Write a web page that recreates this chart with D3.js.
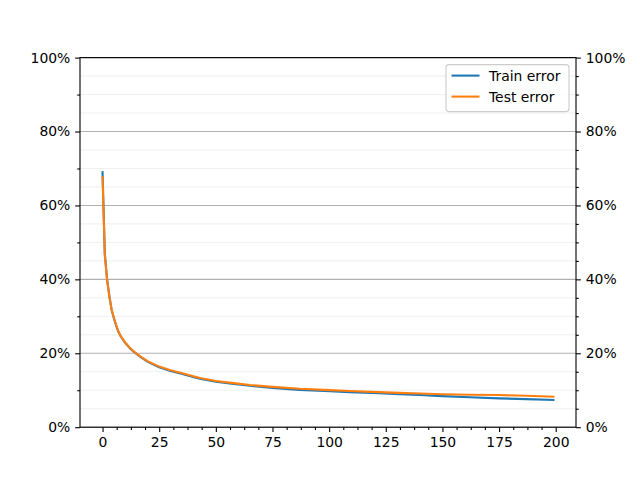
<!DOCTYPE html>
<html>
<head>
<meta charset="utf-8">
<script src="https://cdn.jsdelivr.net/npm/d3@7"></script>
<style>
  body { margin: 0; background: #fff; }
  text { font-family: "DejaVu Sans", sans-serif; }
</style>
</head>
<body>
<div id="chart"></div>
<script>
// epochs (denser where the curve falls fast)
var epochs = [0, 1, 2, 3, 4, 5, 6, 7, 8, 10, 12, 14, 17, 20, 25, 30, 34, 40, 43, 50, 57, 65, 75, 87, 98, 109, 122, 131, 140, 150, 162, 175, 187, 199];
var trainError = [0.690, 0.470, 0.400, 0.355, 0.318, 0.295, 0.275, 0.258, 0.246, 0.228, 0.214, 0.203, 0.189, 0.177, 0.162, 0.152, 0.146, 0.136, 0.131, 0.123, 0.118, 0.112, 0.106, 0.101, 0.098, 0.095, 0.092, 0.089, 0.087, 0.084, 0.081, 0.078, 0.076, 0.0736];
var testError  = [0.677, 0.465, 0.398, 0.354, 0.318, 0.296, 0.276, 0.259, 0.247, 0.229, 0.215, 0.204, 0.190, 0.178, 0.164, 0.154, 0.148, 0.138, 0.133, 0.125, 0.120, 0.114, 0.109, 0.104, 0.101, 0.098, 0.095, 0.093, 0.091, 0.089, 0.088, 0.087, 0.085, 0.0826];
var seriesNames = ["Train error", "Test error"];
var seriesColors = ["#1f77b4", "#ff7f0e"];
var xTicks = [0, 25, 50, 75, 100, 125, 150, 175, 200];
var yTicks = [0, 0.2, 0.4, 0.6, 0.8, 1.0];

var svgWidth = 640;
var svgHeight = 480;
var margin = { top: 57.6, right: 64, bottom: 52.8, left: 80 };
var width = svgWidth - margin.left - margin.right;
var height = svgHeight - margin.top - margin.bottom;

var svg = d3.select("#chart")
  .append("svg")
  .attr("width", svgWidth)
  .attr("height", svgHeight);

var chartGroup = svg.append("g")
  .attr("transform", `translate(${margin.left}, ${margin.top})`);

var xScale = d3.scaleLinear().domain([-9.95, 208.95]).range([0, width]);
var yScale = d3.scaleLinear().domain([0, 1]).range([height, 0]);

// minor horizontal grid every 5%
var minorY = d3.range(0, 1.0001, 0.05).filter(v => Math.abs(Math.round(v * 5) - v * 5) > 1e-6);
chartGroup.append("g").selectAll("line")
  .data(minorY).enter().append("line")
  .attr("x1", 0).attr("x2", width)
  .attr("y1", d => yScale(d)).attr("y2", d => yScale(d))
  .attr("stroke", "#ebebeb").attr("stroke-width", 0.8);

// major grid
chartGroup.append("g").selectAll("line")
  .data(yTicks).enter().append("line")
  .attr("x1", 0).attr("x2", width)
  .attr("y1", d => yScale(d)).attr("y2", d => yScale(d))
  .attr("stroke", "#b0b0b0").attr("stroke-width", 1.1);

var fmt = d => Math.round(d * 100) + "%";
var majorLen = 4.86, minorLen = 2.78;

// x axis
var bottomAxis = d3.axisBottom(xScale).tickValues(xTicks).tickSize(majorLen).tickPadding(4.86);
var xAxis = chartGroup.append("g")
  .attr("transform", `translate(0, ${height})`)
  .call(bottomAxis);
var xMinor = d3.range(0, 206, 6.25).filter(v => v % 25 !== 0);
chartGroup.append("g")
  .attr("transform", `translate(0, ${height})`)
  .call(d3.axisBottom(xScale).tickValues(xMinor).tickSize(minorLen).tickFormat(""));

// left y axis
var leftAxis = d3.axisLeft(yScale).tickValues(yTicks).tickFormat(fmt).tickSize(majorLen).tickPadding(4.86);
chartGroup.append("g").call(leftAxis);
chartGroup.append("g")
  .call(d3.axisLeft(yScale).tickValues([0.1, 0.3, 0.5, 0.7, 0.9]).tickSize(minorLen).tickFormat(""));

// right y axis
var rightAxis = d3.axisRight(yScale).tickValues(yTicks).tickFormat(fmt).tickSize(majorLen).tickPadding(4.86);
chartGroup.append("g").attr("transform", `translate(${width}, 0)`).call(rightAxis);
chartGroup.append("g").attr("transform", `translate(${width}, 0)`)
  .call(d3.axisRight(yScale).tickValues(minorY).tickSize(minorLen).tickFormat(""));

chartGroup.selectAll(".domain").remove();
chartGroup.selectAll(".tick line").attr("stroke", "#000").attr("stroke-width", 1.1);
chartGroup.selectAll(".tick text")
  .attr("font-family", "DejaVu Sans")
  .attr("font-size", "13.9px")
  .attr("fill", "#000");

// lines
var allSeries = [trainError, testError];
var line = d3.line()
  .x((d, i) => xScale(epochs[i]))
  .y(d => yScale(d));

allSeries.forEach(function(vals, k) {
  chartGroup.append("path")
    .datum(vals)
    .attr("fill", "none")
    .attr("stroke", seriesColors[k])
    .attr("stroke-width", 2.1)
    .attr("stroke-linejoin", "round")
    .attr("stroke-linecap", "square")
    .attr("d", line);
});

// frame
chartGroup.append("rect")
  .attr("x", 0).attr("y", 0)
  .attr("width", width).attr("height", height)
  .attr("fill", "none")
  .attr("stroke", "#000")
  .attr("stroke-width", 1.1);

// legend
var legend = chartGroup.append("g")
  .attr("transform", `translate(${width - 130}, 7)`);
legend.append("rect")
  .attr("x", 0).attr("y", 0)
  .attr("width", 123).attr("height", 47)
  .attr("rx", 3)
  .attr("fill", "#fff").attr("fill-opacity", 0.8)
  .attr("stroke", "#cccccc").attr("stroke-width", 1.1);

seriesNames.forEach(function(name, k) {
  var yy = 11 + k * 21;
  legend.append("line")
    .attr("x1", 5.5).attr("x2", 33.5)
    .attr("y1", yy).attr("y2", yy)
    .attr("stroke", seriesColors[k])
    .attr("stroke-width", 2.1);
  legend.append("text")
    .attr("x", 43)
    .attr("y", yy + 5)
    .attr("font-size", "13.9px")
    .attr("fill", "#000")
    .text(name);
});
</script>
</body>
</html>
